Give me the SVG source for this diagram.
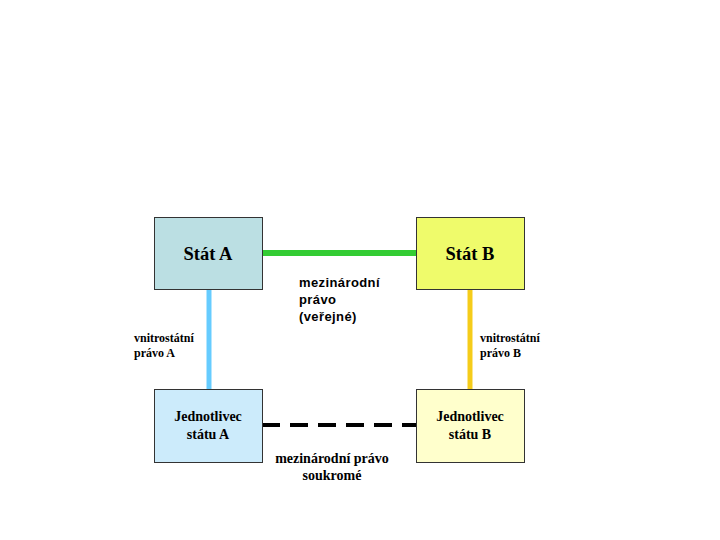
<svg xmlns="http://www.w3.org/2000/svg" width="720" height="540" viewBox="0 0 720 540">
<style>
.box{stroke:#333;stroke-width:1}
.t1{font-family:"Liberation Serif",serif;font-weight:bold;font-size:18.5px;text-anchor:middle;fill:#000}
.t2{font-family:"Liberation Serif",serif;font-weight:bold;font-size:14px;text-anchor:middle;fill:#000}
.t3{font-family:"Liberation Serif",serif;font-weight:bold;font-size:12px;fill:#000}
.t4{font-family:"Liberation Sans",sans-serif;font-weight:bold;font-size:13px;fill:#000;letter-spacing:0.4px}
</style>
<rect width="720" height="540" fill="#fff"/>
<g id="connectors">
<line x1="262" y1="253" x2="416" y2="253" stroke="#33CC33" stroke-width="6"/>
<line x1="209" y1="289" x2="209" y2="389" stroke="#66CCFF" stroke-width="5"/>
<line x1="470" y1="289" x2="470" y2="389" stroke="#F5CC1A" stroke-width="5"/>
<line x1="262" y1="425" x2="416" y2="425" stroke="#000" stroke-width="4" stroke-dasharray="18 10"/>
<text class="t4" x="299" y="287">mezinárodní</text>
<text class="t4" x="299" y="304">právo</text>
<text class="t4" x="299" y="321">(veřejné)</text>
<text class="t3" x="134" y="342">vnitrostátní</text>
<text class="t3" x="134" y="357">právo A</text>
<text class="t3" x="480" y="342">vnitrostátní</text>
<text class="t3" x="480" y="357">právo B</text>
<text class="t2" x="332" y="463">mezinárodní právo</text>
<text class="t2" x="332" y="480">soukromé</text>
</g>
<g id="statA">
<rect class="box" x="154.5" y="217.5" width="108" height="72" fill="#BBDFE3"/>
<text class="t1" x="208" y="260">Stát A</text>
</g>
<g id="statB">
<rect class="box" x="416.5" y="217.5" width="108" height="72" fill="#EFFB6B"/>
<text class="t1" x="470" y="260">Stát B</text>
</g>
<g id="jednotlivecA">
<rect class="box" x="154.5" y="389.5" width="108" height="73" fill="#CCEBFB"/>
<text class="t2" x="208" y="421">Jednotlivec</text>
<text class="t2" x="208" y="439">státu A</text>
</g>
<g id="jednotlivecB">
<rect class="box" x="416.5" y="389.5" width="108" height="73" fill="#FFFFCC"/>
<text class="t2" x="470" y="421">Jednotlivec</text>
<text class="t2" x="470" y="439">státu B</text>
</g>
</svg>
